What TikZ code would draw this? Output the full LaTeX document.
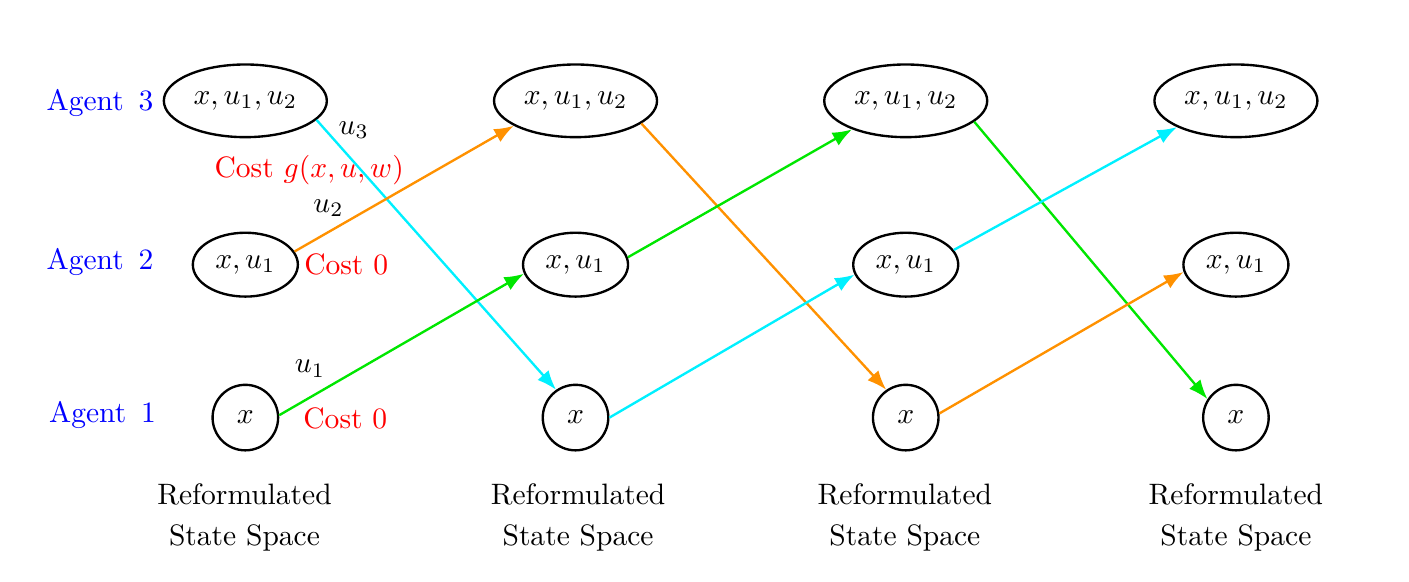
\documentclass[tikz,border=0pt]{standalone}
\usepackage{amsmath}
\usetikzlibrary{arrows.meta,shapes.geometric}
\definecolor{darkorange}{RGB}{255,145,0}
\definecolor{brightcyan}{RGB}{0,240,255}
\definecolor{brightgreen}{RGB}{0,230,0}

\begin{document}
\begin{tikzpicture}[->,>={Latex[length=6.6pt,width=5pt]},thick,node distance=3.93cm,
  big/.style={ellipse,draw,minimum width=1.94cm,minimum height=0.865cm,inner sep=1pt},
  mid/.style={ellipse,draw,minimum width=1.25cm,minimum height=0.76cm,inner sep=1pt},
  small/.style={circle,draw,minimum size=0.78cm,inner sep=1pt},
  agent/.style={color=blue},
  cost/.style={color=red},
  caption/.style={align=center}]
  \useasboundingbox (0,0) rectangle (16.77,6.92);

  \node [small] (a1) at (2.92,1.95) {$x$};
  \node [small,right of=a1] (b1) {$x$};
  \node [small,right of=b1] (c1) {$x$};
  \node [small,right of=c1] (d1) {$x$};

  \node [mid] (a2) at (2.92,3.77) {$x,u_1$};
  \node [mid,right of=a2] (b2) {$x,u_1$};
  \node [mid,right of=b2] (c2) {$x,u_1$};
  \node [mid,right of=c2] (d2) {$x,u_1$};

  \node [big] (a3) at (2.92,5.72) {$x,u_1,u_2$};
  \node [big,right of=a3] (b3) {$x,u_1,u_2$};
  \node [big,right of=b3] (c3) {$x,u_1,u_2$};
  \node [big,right of=c3] (d3) {$x,u_1,u_2$};

  \node [agent] (ag3) at (1.19,5.69) {Agent\enspace 3};
  \node [agent] (ag2) at (1.19,3.80) {Agent\enspace 2};
  \node [agent] (ag1) at (1.22,1.98) {Agent\enspace 1};

  \node [cost] (cost3) at (3.68,4.90) {Cost $g(x,u,w)$};
  \node [cost] (cost2) at (4.12,3.77) {Cost 0};
  \node [cost] (cost1) at (4.11,1.94) {Cost 0};
  \node (lu3) at (4.21,5.37) {$u_3$};
  \node (lu2) at (3.91,4.44) {$u_2$};
  \node (lu1) at (3.69,2.53) {$u_1$};

  \node [caption] (sa) at (2.91,0.76) {Reformulated\\[2pt]State Space};
  \node [caption] (sb) at (6.88,0.76) {Reformulated\\[2pt]State Space};
  \node [caption] (sc) at (10.77,0.76) {Reformulated\\[2pt]State Space};
  \node [caption] (sd) at (14.71,0.76) {Reformulated\\[2pt]State Space};

  \path[->] (a3.-15) edge [brightcyan] (b1.125)
            (a2.15) edge [darkorange] (b3.202)
            (a1.4) edge [brightgreen] (b2.190);

  \path[->] (b3.-19) edge [darkorange] (c1.125)
            (b2.8) edge [brightgreen] (c3.208)
            (b1.0) edge [brightcyan] (c2.191);

  \path[->] (c3.-17) edge [brightgreen] (d1.147)
            (c2.17) edge [brightcyan] (d3.204)
            (c1.7) edge [darkorange] (d2.188);
\end{tikzpicture}
\end{document}
